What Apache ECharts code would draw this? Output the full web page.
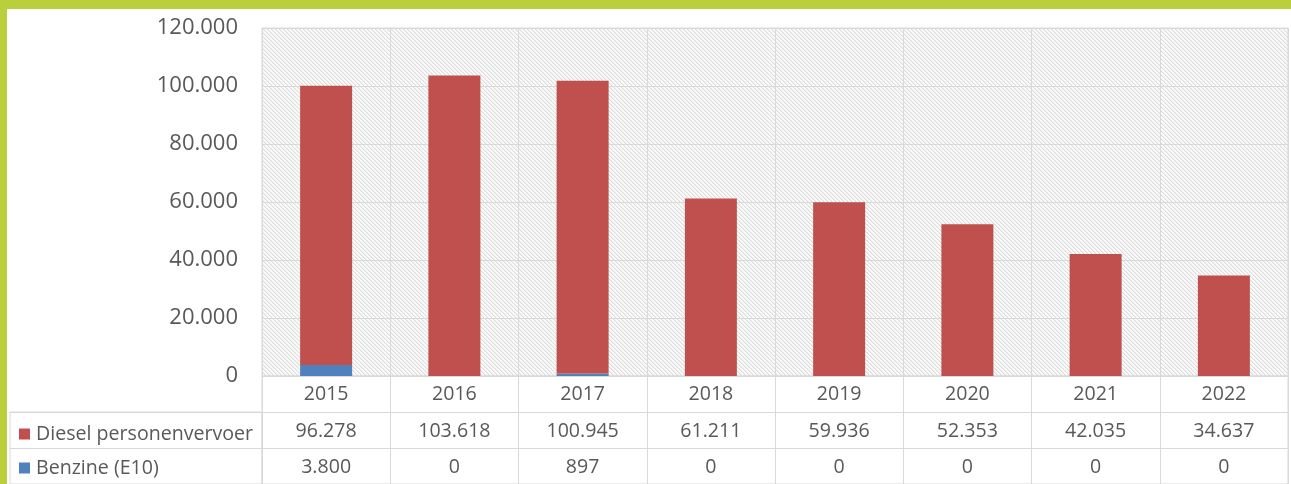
<!DOCTYPE html>
<html style="height: 100%">
<head>
<meta charset="utf-8">
<title>Diesel personenvervoer en Benzine (E10)</title>
<style>
  html, body { margin: 0; height: 100%; background: #b9cf3b; overflow: hidden; }
  #container { position: absolute; left: 7px; top: 9px; width: 1284px; height: 475px; background: #fff; }
</style>
</head>
<body>
<div id="container"></div>
<script src="https://cdn.jsdelivr.net/npm/echarts@6/dist/echarts.min.js"></script>
<script type="text/javascript">
// data
var years = ['2015', '2016', '2017', '2018', '2019', '2020', '2021', '2022'];
var diesel = [96278, 103618, 100945, 61211, 59936, 52353, 42035, 34637];
var benzine = [3800, 0, 897, 0, 0, 0, 0, 0];
var yTicks = [0, 20000, 40000, 60000, 80000, 100000, 120000];

var textColor = '#595959';
var lineColor = '#d9d9d9';
var font = '"Open Sans", "Liberation Sans", sans-serif';

// 12.345 style
function fmt(v) {
    return String(v).replace(/\B(?=(\d{3})+(?!\d))/g, '.');
}

// hatched plot background
function hatch() {
    var c = document.createElement('canvas');
    c.width = 4;
    c.height = 4;
    var ctx = c.getContext('2d');
    for (var x = 0; x < 4; x++) {
        for (var y = 0; y < 4; y++) {
            var k = (x - y + 8) % 4;
            ctx.fillStyle = k === 0 ? '#dcdcdc' : (k === 1 ? '#eeeeee' : '#fbfbfb');
            ctx.fillRect(x, y, 1, 1);
        }
    }
    return { image: c, repeat: 'repeat' };
}

var dom = document.getElementById('container');
var myChart = echarts.init(dom);

var rowLabel = { fontSize: 19.6, color: textColor, fontFamily: font, margin: 8 };

var option = {
    animation: false,
    legend: {
        orient: 'vertical',
        left: 7,
        top: 410,
        itemGap: 14,
        itemWidth: 11,
        itemHeight: 11,
        icon: 'rect',
        data: ['Diesel personenvervoer', 'Benzine (E10)'],
        textStyle: { fontSize: 19.6, color: textColor, fontFamily: font, padding: [0, 0, 0, 1] }
    },
    grid: [
        { left: 255, right: 3, top: 19, bottom: 108, show: true, borderColor: lineColor, borderWidth: 1, backgroundColor: hatch() },
        { left: 255, right: 3, top: 367, bottom: -1, show: true, borderColor: lineColor, borderWidth: 1 },
        { left: 3, width: 252, top: 403, bottom: -1, show: true, borderColor: lineColor, borderWidth: 1 }
    ],
    xAxis: [
        {
            type: 'category', gridIndex: 0, data: years,
            axisLine: { show: true, lineStyle: { color: lineColor } },
            axisTick: { show: false },
            axisLabel: rowLabel,
            splitLine: { show: true, lineStyle: { color: lineColor } }
        },
        {
            type: 'category', gridIndex: 0, position: 'bottom', offset: 37,
            data: diesel.map(fmt),
            axisLine: { show: false }, axisTick: { show: false },
            axisLabel: rowLabel
        },
        {
            type: 'category', gridIndex: 0, position: 'bottom', offset: 73,
            data: benzine.map(fmt),
            axisLine: { show: false }, axisTick: { show: false },
            axisLabel: rowLabel
        },
        {
            type: 'category', gridIndex: 1, data: years,
            axisLine: { show: false }, axisTick: { show: false }, axisLabel: { show: false },
            splitLine: { show: true, lineStyle: { color: lineColor } }
        },
        {
            type: 'value', gridIndex: 2, min: 0, max: 1,
            axisLine: { show: false }, axisTick: { show: false }, axisLabel: { show: false },
            splitLine: { show: false }
        }
    ],
    yAxis: [
        {
            type: 'value', gridIndex: 0, min: yTicks[0], max: yTicks[yTicks.length - 1], interval: yTicks[1] - yTicks[0],
            axisLine: { show: false }, axisTick: { show: false },
            axisLabel: { fontSize: 22, color: textColor, fontFamily: font, margin: 24, formatter: fmt },
            splitLine: { show: true, lineStyle: { color: lineColor } }
        },
        {
            type: 'value', gridIndex: 1, min: 0, max: 3, interval: 1,
            axisLine: { show: false }, axisTick: { show: false }, axisLabel: { show: false },
            splitLine: { show: true, lineStyle: { color: lineColor } }
        },
        {
            type: 'value', gridIndex: 2, min: 0, max: 2, interval: 1,
            axisLine: { show: false }, axisTick: { show: false }, axisLabel: { show: false },
            splitLine: { show: true, lineStyle: { color: lineColor } }
        }
    ],
    series: [
        {
            name: 'Benzine (E10)', type: 'bar', stack: 'total', barWidth: 52,
            xAxisIndex: 0, yAxisIndex: 0,
            itemStyle: { color: '#4f81bd' },
            data: benzine
        },
        {
            name: 'Diesel personenvervoer', type: 'bar', stack: 'total', barWidth: 52,
            xAxisIndex: 0, yAxisIndex: 0,
            itemStyle: { color: '#c0504d' },
            data: diesel
        }
    ]
};

myChart.setOption(option);
</script>
</body>
</html>
